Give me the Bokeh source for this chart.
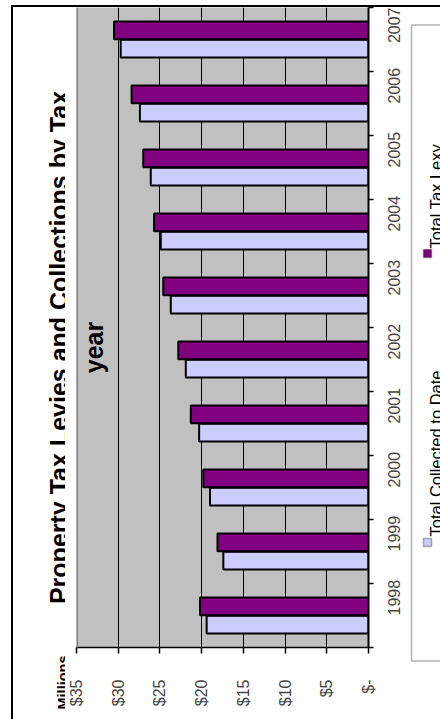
from math import pi

from bokeh.embed import file_html
from bokeh.layouts import row
from bokeh.models import (BoxAnnotation, FixedTicker, Grid, Label, LinearAxis, Range1d,
                          ColumnDataSource, Span)
from bokeh.plotting import figure
from bokeh.resources import INLINE
from bokeh.transform import dodge

# ---- data (millions of dollars) ----
years = ["1998", "1999", "2000", "2001", "2002", "2003", "2004", "2005", "2006", "2007"]
collected = [19.4, 17.4, 19.0, 20.3, 21.9, 23.7, 24.9, 26.1, 27.4, 29.7]
levy = [20.2, 18.1, 19.8, 21.3, 22.8, 24.6, 25.7, 27.0, 28.4, 30.5]
value_ticks = [0, 5, 10, 15, 20, 25, 30, 35]
value_tick_labels = ["$-", "$5", "$10", "$15", "$20", "$25", "$30", "$35"]
series_names = ["Total Collected to Date", "Total Tax Lexy"]
series_colors = ["#CCCCFF", "#800080"]
title_lines = ["Property Tax Levies and Collections by Tax", "year"]

FONT = "Liberation Sans"
PAGE_H = 719
ORIGIN_X, ORIGIN_Y = 13, 7          # inside the chart-area border
LEFT_W, MAIN_W, RIGHT_W = 52, 343, 32
PANEL_H = PAGE_H - ORIGIN_Y
FL, FR, FB = 76, 369, 647            # plot frame edges (page pixels)


def blank(width):
    """A plain drawing strip whose frame fills the whole strip."""
    f = figure(width=width, height=PANEL_H, x_range=Range1d(0, 1), y_range=Range1d(0, 1),
               x_axis_location=None, y_axis_location=None, min_border=0,
               frame_align=False,
               toolbar_location=None, output_backend="svg")
    f.center = [r for r in f.center if not isinstance(r, Grid)]
    f.outline_line_color = None
    f.background_fill_color = "white"
    f.border_fill_color = "white"
    return f


def side_label(x0, y_bottom, px, py, text, size, bold=False, align="center"):
    return Label(x=px - x0, y=y_bottom - py, x_units="screen", y_units="screen",
                 text=text, angle=pi / 2, text_align=align,
                 text_baseline="alphabetic", text_font=FONT,
                 text_font_size=size, text_font_style="bold" if bold else "normal",
                 text_color="black")


def screen_box(x0, y_bottom, left, right, top, bottom, **kw):
    return BoxAnnotation(left=left - x0, right=right - x0,
                         top=y_bottom - top, bottom=y_bottom - bottom,
                         left_units="screen", right_units="screen",
                         top_units="screen", bottom_units="screen", **kw)


# ---------------- main plot ----------------
slot_centers = [i + 0.5 for i in range(len(years))]
slot_edges = list(range(len(years) + 1))
source = ColumnDataSource(dict(pos=slot_centers, collected=collected, levy=levy))

main_x0 = ORIGIN_X + LEFT_W
p = figure(width=MAIN_W, height=PANEL_H, y_range=Range1d(0, len(years)), x_range=Range1d(35, 0),
           x_axis_location=None, y_axis_location=None, frame_align=False,
           toolbar_location=None, output_backend="svg",
           min_border_left=FL - main_x0, min_border_right=main_x0 + MAIN_W - FR,
           min_border_top=0, min_border_bottom=PAGE_H - FB)
p.center = [r for r in p.center if not isinstance(r, Grid)]
p.background_fill_color = "#C0C0C0"
p.border_fill_color = "white"
p.outline_line_color = None

xaxis = LinearAxis(ticker=FixedTicker(ticks=value_ticks),
                   major_label_overrides=dict(zip(value_ticks, value_tick_labels)),
                   major_label_orientation=pi / 2,
                   major_label_text_font=FONT, major_label_text_font_size="16px",
                   major_label_standoff=26,
                   major_tick_out=6, major_tick_in=0, major_tick_line_width=1.5,
                   minor_tick_line_color=None,
                   axis_line_color="black", axis_line_width=1.5)
p.add_layout(xaxis, "below")
p.add_layout(Grid(dimension=0, ticker=FixedTicker(ticks=value_ticks[1:-1]),
                  grid_line_color="black", grid_line_width=1))
p.add_layout(Span(location=35, dimension="height", line_color="#808080", line_width=3))

yaxis = LinearAxis(ticker=FixedTicker(ticks=slot_centers, minor_ticks=slot_edges),
                   major_label_overrides=dict(zip(slot_centers, years)),
                   major_tick_line_color=None, major_tick_out=0, major_tick_in=0,
                   minor_tick_out=5, minor_tick_in=0, minor_tick_line_color="black",
                   minor_tick_line_width=1.5,
                   axis_line_color="black", axis_line_width=2,
                   major_label_orientation=pi / 2, major_label_standoff=20,
                   major_label_text_font=FONT, major_label_text_font_size="16px")
p.add_layout(yaxis, "right")

bar_h = 0.28
p.hbar(y=dodge("pos", -0.143), right="collected", left=0, height=bar_h,
       source=source, fill_color=series_colors[0], line_color="black", line_width=2)
p.hbar(y=dodge("pos", 0.143), right="levy", left=0, height=bar_h,
       source=source, fill_color=series_colors[1], line_color="black", line_width=2)

# second title line sits over the plot area
p.add_layout(side_label(FL, FB, 93, 347, title_lines[1], "25px", bold=True))

# ---------------- left strip: title and units ----------------
left = blank(LEFT_W)
left.add_layout(side_label(ORIGIN_X, PAGE_H, 58, 347, title_lines[0], "25px", bold=True))
left.add_layout(side_label(ORIGIN_X, PAGE_H, 62, 682, "Millions", "14.5px", bold=True))

# ---------------- right strip: legend ----------------
right_x0 = main_x0 + MAIN_W
right = blank(RIGHT_W)
right.add_layout(screen_box(right_x0, PAGE_H, 411, 480, 24.5, 660.5,
                            fill_color="white", fill_alpha=1.0,
                            line_color="black", line_width=1.5))
legend_rows = [(542, 536), (253, 248)]
for name, color, (sq_c, txt_start) in zip(series_names, series_colors, legend_rows):
    right.add_layout(screen_box(right_x0, PAGE_H, 423, 431, sq_c - 4, sq_c + 4,
                                fill_color=color, fill_alpha=1.0,
                                line_color="black", line_width=1.5))
    right.add_layout(side_label(right_x0, PAGE_H, 435, txt_start, name, "16.5px", align="left"))

# chart-area border (top and left edges) drawn around the whole strip
layout = row(left, p, right, spacing=0,
             styles={"margin-left": "11px", "margin-top": "5px",
                     "border-left": "2px solid black", "border-top": "2px solid black"})

open("out.html", "w").write(file_html(layout, INLINE))
